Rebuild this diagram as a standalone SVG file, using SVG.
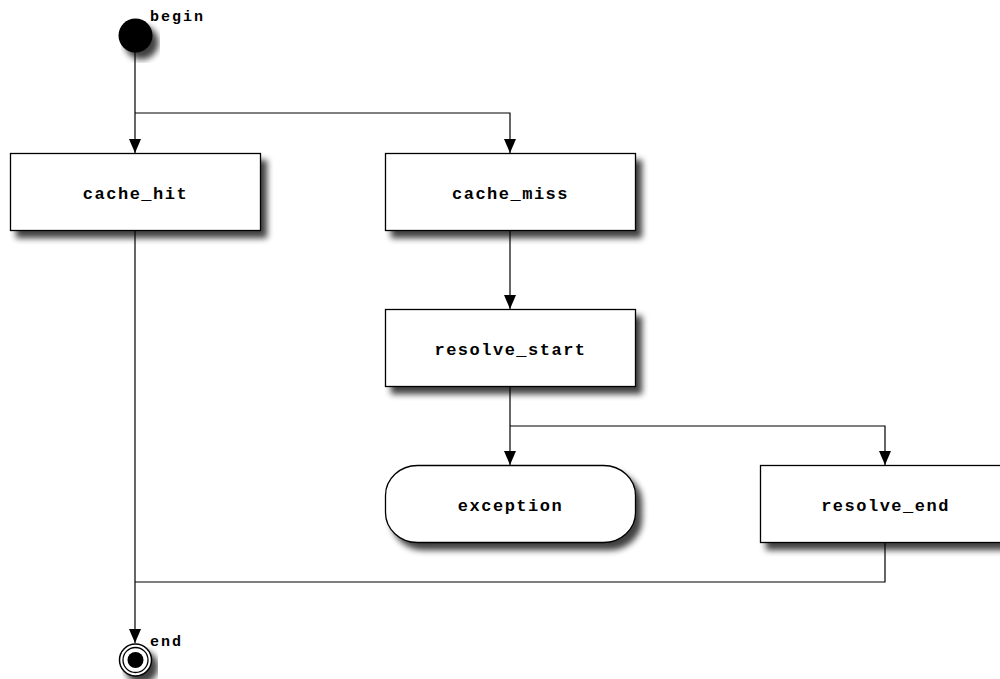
<svg xmlns="http://www.w3.org/2000/svg" width="1000" height="679" viewBox="0 0 1000 679">
<style>
.box{fill:#fff;stroke:#000;stroke-width:1.3}
.lbl{font-family:"Liberation Mono","DejaVu Sans Mono",monospace;font-weight:bold;font-size:17px;letter-spacing:1.5px;text-anchor:middle;fill:#000}
.sm{font-family:"Liberation Mono","DejaVu Sans Mono",monospace;font-weight:bold;font-size:15px;letter-spacing:2px;fill:#000}
.edge{fill:none;stroke:#000;stroke-width:1.2}
</style>
<defs>
<filter id="sh" x="-10%" y="-10%" width="130%" height="140%">
<feGaussianBlur in="SourceAlpha" stdDeviation="3"/>
<feOffset dx="6" dy="7" result="b"/>
<feComponentTransfer><feFuncA type="linear" slope="0.75"/></feComponentTransfer>
<feMerge><feMergeNode/><feMergeNode in="SourceGraphic"/></feMerge>
</filter>
</defs>
<rect width="1000" height="679" fill="#fff"/>
<g id="connectors">
<path class="edge" d="M135,52 V153"/>
<path d="M129,139 L141,139 L135,153 Z"/>
<path class="edge" d="M135,113 H510 V153"/>
<path d="M504,139 L516,139 L510,153 Z"/>
<path class="edge" d="M510,231 V309"/>
<path d="M504,295 L516,295 L510,309 Z"/>
<path class="edge" d="M510,387 V465"/>
<path d="M504,451 L516,451 L510,465 Z"/>
<path class="edge" d="M510,426 H885 V465"/>
<path d="M879,451 L891,451 L885,465 Z"/>
<path class="edge" d="M135,231 V643"/>
<path d="M129,629 L141,629 L135,643 Z"/>
<path class="edge" d="M885,543 V582 H135"/>
</g>
<g id="begin">
<circle cx="135.5" cy="35.5" r="17" fill="#000" filter="url(#sh)"/>
<text class="sm" x="150" y="21">begin</text>
</g>
<g id="cache_hit">
<rect class="box" x="10.5" y="153.5" width="250" height="77" filter="url(#sh)"/>
<text class="lbl" x="135.5" y="199">cache_hit</text>
</g>
<g id="cache_miss">
<rect class="box" x="385.5" y="153.5" width="250" height="77" filter="url(#sh)"/>
<text class="lbl" x="510.5" y="199">cache_miss</text>
</g>
<g id="resolve_start">
<rect class="box" x="385.5" y="309.5" width="250" height="77" filter="url(#sh)"/>
<text class="lbl" x="510.5" y="355">resolve_start</text>
</g>
<g id="exception">
<rect class="box" x="385.5" y="465.5" width="250" height="77" rx="32" ry="30" filter="url(#sh)"/>
<text class="lbl" x="510.5" y="511">exception</text>
</g>
<g id="resolve_end">
<rect class="box" x="760.5" y="465.5" width="250" height="77" filter="url(#sh)"/>
<text class="lbl" x="885.5" y="511">resolve_end</text>
</g>
<g id="end">
<circle cx="135.5" cy="660" r="16" fill="#fff" stroke="#000" stroke-width="1.5" filter="url(#sh)"/>
<circle cx="135.5" cy="660" r="12.5" fill="#fff" stroke="#000" stroke-width="1.3"/>
<circle cx="135.5" cy="660" r="8" fill="#000"/>
<text class="sm" x="150" y="646">end</text>
</g>
</svg>
